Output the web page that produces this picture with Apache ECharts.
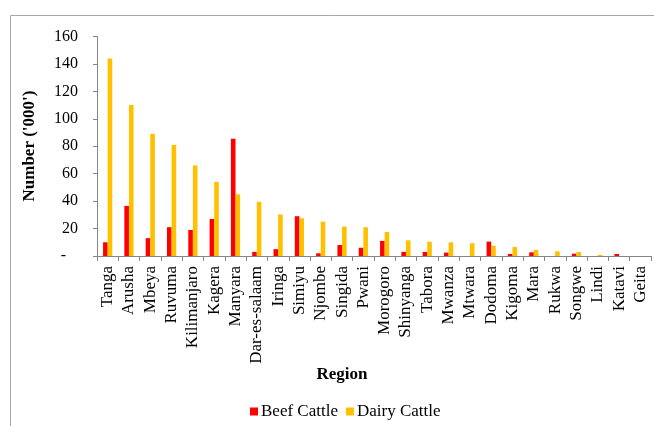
<!DOCTYPE html>
<html>
<head>
<meta charset="utf-8">
<script src="https://cdn.jsdelivr.net/npm/echarts@6/dist/echarts.min.js"></script>
<style>html,body{margin:0;padding:0;background:#fff}#c{width:654px;height:426px}</style>
</head>
<body>
<div id="c"></div>
<script>
var regions = ['Tanga','Arusha','Mbeya','Ruvuma','Kilimanjaro','Kagera','Manyara','Dar-es-salaam','Iringa','Simiyu','Njombe','Singida','Pwani','Morogoro','Shinyanga','Tabora','Mwanza','Mtwara','Dodoma','Kigoma','Mara','Rukwa','Songwe','Lindi','Katavi','Geita'];
var beefCattle = [10, 36.5, 13, 21, 19, 27, 85.5, 3, 5, 29, 2, 8, 6, 11, 3, 3, 2.5, 0, 10.5, 1.5, 2.7, 0, 1.7, 0, 1.5, 0];
var dairyCattle = [144, 110, 89, 81, 66, 54, 45, 39.5, 30.3, 27.5, 25, 21.5, 21, 17.5, 11.4, 10.4, 10, 9.3, 7.5, 6.6, 4.5, 3.4, 2.9, 0.8, 0, 0];
var yTicks = [0, 20, 40, 60, 80, 100, 120, 140, 160];

var FONT = '"Liberation Serif","Times New Roman",serif';
var chart = echarts.init(document.getElementById('c'), null, {renderer: 'canvas'});
chart.setOption({
  animation: false,
  backgroundColor: '#fff',
  grid: {left: 97, right: 3, top: 36.5, bottom: 170, containLabel: false},
  legend: {
    data: ['Beef Cattle', 'Dairy Cattle'],
    left: 245, top: 398,
    icon: 'rect', itemWidth: 8, itemHeight: 8, itemGap: 8,
    textStyle: {fontFamily: FONT, fontSize: 17, color: '#000', padding: [0, 0, 0, -2]}
  },
  xAxis: {
    type: 'category',
    data: regions,
    axisLine: {lineStyle: {color: '#868686', width: 1}},
    axisTick: {show: true, length: 5, lineStyle: {color: '#868686'}},
    axisLabel: {rotate: 90, fontFamily: FONT, fontSize: 17, color: '#000', margin: 10, interval: 0}
  },
  yAxis: {
    type: 'value',
    min: yTicks[0], max: yTicks[yTicks.length - 1], interval: 20,
    axisLine: {show: true, lineStyle: {color: '#868686', width: 1}},
    axisTick: {show: true, length: 4, lineStyle: {color: '#868686'}},
    splitLine: {show: false},
    axisLabel: {
      fontFamily: FONT, fontSize: 16, color: '#000', margin: 19,
      formatter: function (v) { return v === 0 ? '-\u2007 ' : String(v); }
    }
  },
  series: [
    {name: 'Beef Cattle', type: 'bar', data: beefCattle, barWidth: 4.6, barGap: '0%',
     itemStyle: {color: '#FF0000'}},
    {name: 'Dairy Cattle', type: 'bar', data: dairyCattle, barWidth: 4.6, barGap: '0%',
     itemStyle: {color: '#FFC000'}}
  ],
  graphic: [
    {type: 'line', shape: {x1: 10.5, y1: 15.5, x2: 654, y2: 15.5}, style: {stroke: '#a6a6a6', lineWidth: 1}},
    {type: 'line', shape: {x1: 10.5, y1: 15.5, x2: 10.5, y2: 426}, style: {stroke: '#a6a6a6', lineWidth: 1}},
    {type: 'text', x: 30, y: 146, rotation: Math.PI / 2,
     style: {text: "Number ('000')", font: 'bold 17px ' + FONT, fill: '#000', align: 'center', verticalAlign: 'middle'}},
    {type: 'text', x: 342, y: 375,
     style: {text: 'Region', font: 'bold 17px ' + FONT, fill: '#000', align: 'center', verticalAlign: 'middle'}}
  ]
});
</script>
</body>
</html>
